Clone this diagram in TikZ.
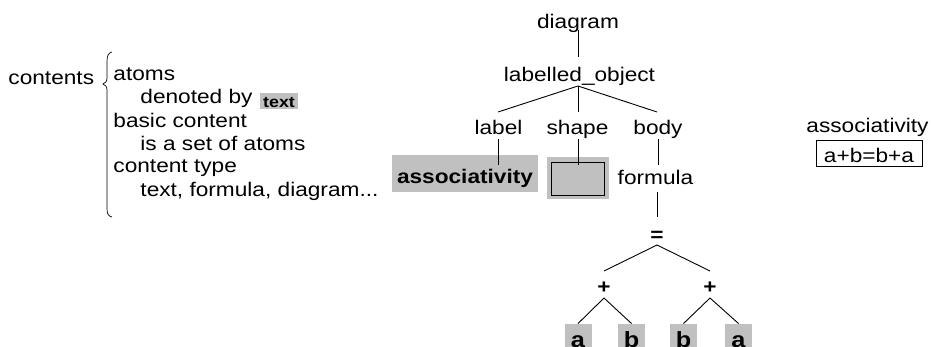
\documentclass[tikz,border=0pt]{standalone}
\usepackage{fontspec}
\setmainfont{Liberation Sans}[FakeStretch=1.15]
\usetikzlibrary{calc}
\definecolor{silver}{RGB}{192,192,192}
\begin{document}
\begin{tikzpicture}[x=1pt,y=-1pt,
  font=\fontsize{19.7}{23}\selectfont,
  line width=0.9pt,
  txt/.style={inner sep=0pt, anchor=base},
  txtw/.style={inner sep=0pt, anchor=base west},
  optxt/.style={inner sep=0pt, anchor=base, font=\fontsize{19.7}{23}\selectfont\bfseries},
  leaf/.style={fill=silver, inner sep=0pt, anchor=base, minimum width=27pt,
    text height=23.5pt, text depth=8pt, font=\fontsize{22}{25}\selectfont\bfseries},
  edge/.style={line width=0.9pt}]
\useasboundingbox (0,0) rectangle (931,347);

% ---------- left: contents ----------
\node[txtw] (contents) at (8,85) {contents};
\node[txtw] (l1) at (113,80.7) {atoms};
\node[txtw] (l2) at (140,104) {denoted by};
\node[fill=silver, inner sep=0pt, anchor=base, minimum width=38pt,
  text height=14.3pt, text depth=1.7pt,
  font=\fontsize{15.5}{17}\selectfont\bfseries] (textbox) at (279,107.3) {text};
\node[txtw] (l3) at (113,127.3) {basic content};
\node[txtw] (l4) at (140,150.7) {is a set of atoms};
\node[txtw] (l5) at (113,173) {content type};
\node[txtw] (l6) at (140,196.5) {text, formula, diagram...};
\draw[line width=0.7pt] (112,52) .. controls (108,53) and (107,56) .. (107,62) -- (107,78)
  .. controls (107,82) and (105,83) .. (103,84)
  .. controls (105,85) and (107,86) .. (107,90) -- (107,208)
  .. controls (107,214) and (108,216) .. (112,217);

% ---------- tree ----------
\node[txt] (diag) at (578,29) {diagram};
\node[txt] (lo) at (579.5,82) {labelled\_object};
\node[txt] (lab) at (498.5,135) {label};
\node[txt] (shp) at (577.5,135) {shape};
\node[txt] (body) at (658,135) {body};
\node[fill=silver, inner xsep=5pt, inner ysep=0pt, text height=29pt, text depth=8pt,
  anchor=base, font=\fontsize{19.7}{23}\selectfont\bfseries] (assoc) at (465,184) {associativity};
\node[draw, fill=silver, minimum width=53pt, minimum height=33pt, inner sep=0pt,
  preaction={draw=silver, line width=9pt}] (box) at (577.5,178.5) {};
\node[txt] (formula) at (655.5,185) {formula};
\node[optxt] (eq) at (657,242) {=};
\node[optxt] (p1) at (604,294) {+};
\node[optxt] (p2) at (710,294) {+};
\node[leaf] (a1) at (578,347.5) {a};
\node[leaf] (b1) at (631.5,347.5) {b};
\node[leaf] (b2) at (683.5,347.5) {b};
\node[leaf] (a2) at (738.5,347.5) {a};

\draw[edge] ($(diag.base)+(0,1)$) -- ($(lo.base)+(-1.5,-25)$);
\coordinate (loa) at ($(lo.base)+(-1.5,4)$);
\draw[edge] (loa) -- ($(lab.base)+(-0.5,-23)$);
\draw[edge] (loa) -- ($(shp.base)+(0.5,-23)$);
\draw[edge] (loa) -- ($(body.base)+(-1,-23)$);
\draw[edge] ($(lab.base)+(-0.5,4)$) -- ($(assoc.base)+(33,-19)$);
\draw[edge] ($(shp.base)+(0.5,4)$) -- ($(box.north)+(0.5,3)$);
\draw[edge] ($(body.base)+(0,4)$) -- ($(formula.base)+(2.5,-20)$);
\draw[edge] ($(formula.base)+(1.5,7)$) -- ($(eq.base)+(0,-25)$);
\coordinate (eqa) at ($(eq.base)+(0,3)$);
\draw[edge] (eqa) -- ($(p1.base)+(0,-23)$);
\draw[edge] (eqa) -- ($(p2.base)+(0,-23)$);
\coordinate (p1a) at ($(p1.base)+(0,4)$);
\coordinate (p2a) at ($(p2.base)+(0,4)$);
\draw[edge] (p1a) -- (a1.north);
\draw[edge] (p1a) -- (b1.north);
\draw[edge] (p2a) -- (b2.north);
\draw[edge] (p2a) -- (a2.north);

% ---------- right ----------
\node[txt] (rassoc) at (867.5,133) {associativity};
\node[draw, line width=0.8pt, inner xsep=8pt, inner ysep=0pt, text height=23pt,
  text depth=3pt, anchor=base] (eqn) at (869,163) {a+b=b+a};
\end{tikzpicture}
\end{document}
